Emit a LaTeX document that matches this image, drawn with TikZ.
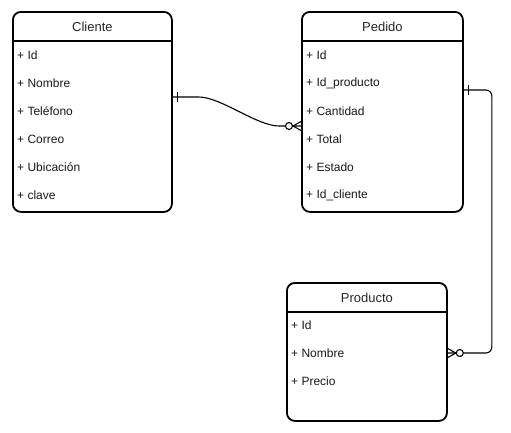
\documentclass[tikz,border=0pt]{standalone}
\usepackage{fontspec}
\setmainfont{Liberation Sans}
\usetikzlibrary{positioning,calc}

\begin{document}
\begin{tikzpicture}[x=1pt, y=-1pt,
    entity/.style={draw, line width=1.8pt, rounded corners=8pt, anchor=north west, inner sep=0pt},
    etitle/.style={font=\fontsize{13}{15}\selectfont, text=black!85},
    attr/.style={anchor=west, inner sep=0pt, font=\fontsize{12}{14}\selectfont, text=black!90},
    rel/.style={line width=1.1pt},
    relmark/.style={line width=1.1pt}]
  \useasboundingbox (0,0) rectangle (511,432);
  % Entities
  \node[entity, minimum width=159pt, minimum height=200pt] (cliente) at (12,11) {};
  \node[entity, minimum width=161pt, minimum height=200pt] (pedido) at (301,11) {};
  \node[entity, minimum width=160pt, minimum height=138pt] (producto) at (286,282) {};
  % Titles and header lines
  \node[etitle] (cli-t) at ($(cliente.north)+(0,16)$) {Cliente};
  \node[etitle] (ped-t) at ($(pedido.north)+(0,16)$) {Pedido};
  \node[etitle] (pro-t) at ($(producto.north)+(0,16)$) {Producto};
  \draw[line width=1.8pt] ($(cliente.north west)+(0,30)$) -- ($(cliente.north east)+(0,30)$);
  \draw[line width=1.8pt] ($(pedido.north west)+(0,30)$) -- ($(pedido.north east)+(0,30)$);
  \draw[line width=1.8pt] ($(producto.north west)+(0,30)$) -- ($(producto.north east)+(0,30)$);
  % Attributes
  \foreach \i/\t in {0/Id, 1/Nombre, 2/Teléfono, 3/Correo, 4/Ubicación, 5/clave} {
    \node[attr] (cli-\i) at (17,{55+28*\i}) {+ \t};
  }
  \foreach \i/\t in {0/Id, 1/Id\_producto, 2/Cantidad, 3/Total, 4/Estado, 5/Id\_cliente} {
    \node[attr] (ped-\i) at (306,{55+28*\i}) {+ \t};
  }
  \foreach \i/\t in {0/Id, 1/Nombre, 2/Precio} {
    \node[attr] (pro-\i) at (291,{325+28*\i}) {+ \t};
  }
  % Connector ends
  \coordinate (cli-r) at ($(cliente.north east)+(0,86)$);
  \coordinate (ped-l) at ($(pedido.north west)+(0,115)$);
  \coordinate (ped-r) at ($(pedido.north east)+(0,79)$);
  \coordinate (pro-r) at ($(producto.north east)+(0,71)$);
  % Cliente 1 -- 0..n Pedido
  \draw[rel] (cli-r) -- ++(26,0) .. controls ++(22,0) and ++(-22,0) .. ($(ped-l)+(-22,0)$) -- (ped-l);
  \draw[relmark] ($(cli-r)+(5,-5)$) -- ++(0,10);
  \draw[relmark] ($(ped-l)+(0,-4.5)$) -- ++(-8,4.5) -- ++(8,4.5);
  \draw[relmark, fill=white] ($(ped-l)+(-12,0)$) circle (3.5);
  % Pedido 1 -- 0..n Producto
  \draw[rel, rounded corners=6pt] (ped-r) -- ++(28,0) |- (pro-r);
  \draw[relmark] ($(ped-r)+(5,-5)$) -- ++(0,10);
  \draw[relmark] ($(pro-r)+(0,-4.5)$) -- ++(8,4.5) -- ++(-8,4.5);
  \draw[relmark, fill=white] ($(pro-r)+(12,0)$) circle (3.5);
\end{tikzpicture}
\end{document}
